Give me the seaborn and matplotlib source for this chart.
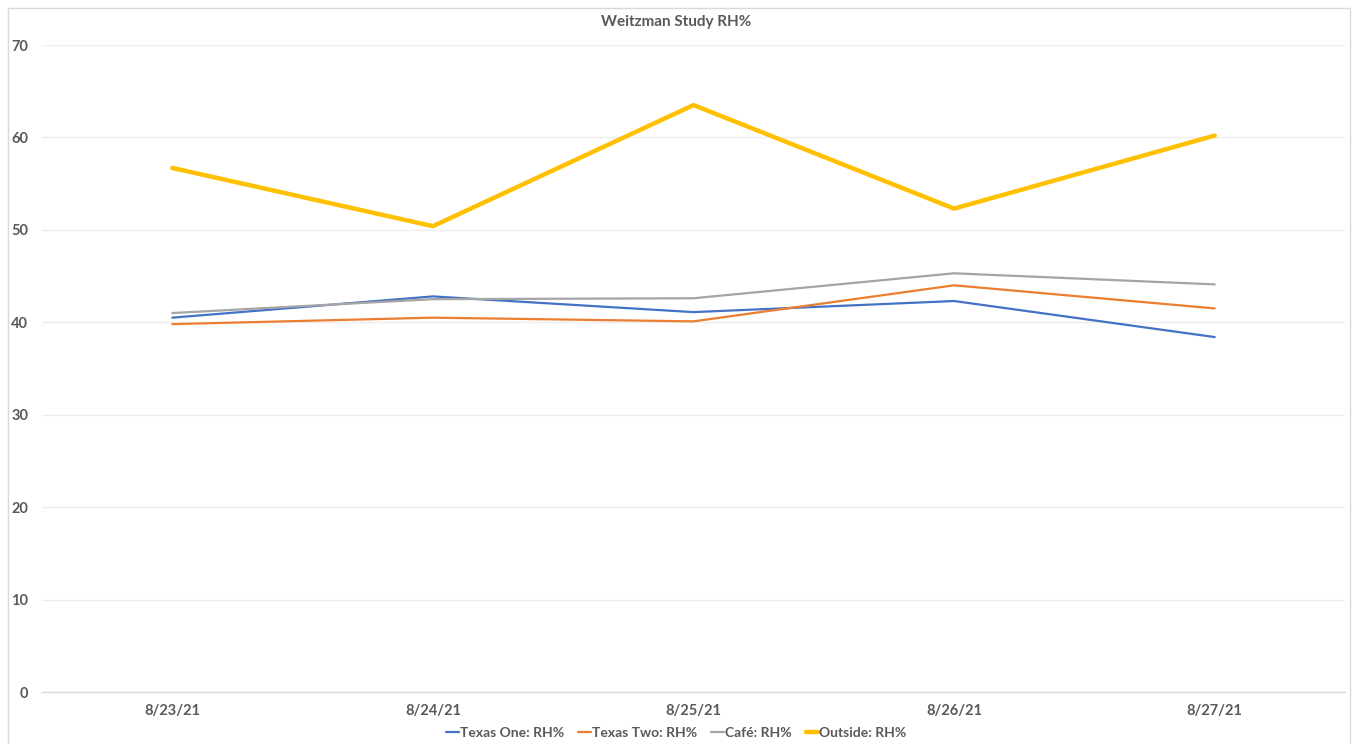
import matplotlib
matplotlib.use("Agg")
import matplotlib.pyplot as plt
import seaborn as sns
import pandas as pd
import numpy as np
from matplotlib.patches import Rectangle
from matplotlib.ticker import FixedLocator
from matplotlib.lines import Line2D

dates = ["8/23/21", "8/24/21", "8/25/21", "8/26/21", "8/27/21"]
series_names = ["Texas One: RH%", "Texas Two: RH%", "Café: RH%", "Outside: RH%"]
texas_one = [40.5, 42.8, 41.1, 42.3, 38.4]
texas_two = [39.8, 40.5, 40.1, 44.0, 41.5]
cafe = [41.0, 42.5, 42.6, 45.3, 44.1]
outside = [56.7, 50.4, 63.5, 52.3, 60.2]
y_ticks = [0, 10, 20, 30, 40, 50, 60, 70]
title = "Weitzman Study RH%"

colors = ["#4472C4", "#ED7D31", "#A5A5A5", "#FFC000"]
widths = [1.6, 1.6, 1.6, 3.2]

rows = []
for name, vals in zip(series_names, [texas_one, texas_two, cafe, outside]):
    for d, v in zip(dates, vals):
        rows.append({"date": d, "series": name, "value": v})
df = pd.DataFrame(rows)
df["xpos"] = df["date"].map({d: i for i, d in enumerate(dates)})

sns.set_theme(style="white")
plt.rcParams["font.family"] = ["Lato", "DejaVu Sans"]

fig = plt.figure(figsize=(13.53, 7.44), dpi=100)
ax = fig.add_axes([42/1353, 1-692/744, (1345-42)/1353, (692-45)/744])

sns.lineplot(data=df, x="xpos", y="value", hue="series", hue_order=series_names,
             palette=colors, size="series", sizes=dict(zip(series_names, widths)),
             size_order=series_names, ax=ax, legend=False, sort=False)

ax.set_xlim(-0.5, len(dates) - 0.5)
ax.set_ylim(0, 70)
ax.set_yticks(y_ticks)
ax.set_yticklabels([str(t) for t in y_ticks])
ax.set_xticks(range(len(dates)))
ax.set_xticklabels(dates)
ax.xaxis.set_minor_locator(FixedLocator(np.arange(-0.5, len(dates), 1.0)))
ax.tick_params(axis="x", which="minor", length=5, color="#D9D9D9", width=1, direction="out")
ax.tick_params(axis="both", which="major", length=0, labelsize=10.5, labelcolor="#595959")
for lab in ax.get_xticklabels() + ax.get_yticklabels():
    lab.set_fontweight("bold")
ax.grid(axis="y", color="#EDEDED", linewidth=1)
ax.set_axisbelow(True)
for s in ["top", "right", "left"]:
    ax.spines[s].set_visible(False)
ax.spines["bottom"].set_color("#D9D9D9")
ax.spines["bottom"].set_linewidth(1)
ax.set_xlabel("")
ax.set_ylabel("")
ax.tick_params(axis="y", pad=10)
ax.tick_params(axis="x", pad=9)

fig.text(0.5, 1-22/744, title, ha="center", va="center", fontsize=11,
         fontweight="bold", color="#595959")

handles = [Line2D([0], [0], color=c, lw=w) for c, w in zip(colors, widths)]
fig.legend(handles, series_names, loc="center", bbox_to_anchor=(0.5, 1-733/744),
           ncol=4, frameon=False, handlelength=0.9, handletextpad=0.1,
           columnspacing=1.0, prop={"weight": "bold", "size": 10},
           labelcolor="#595959")

fig.patches.append(Rectangle((8/1353, -0.05), (1350-8)/1353, 1.05-8/744,
                             transform=fig.transFigure, fill=False,
                             edgecolor="#D9D9D9", linewidth=1))

fig.savefig("out.png", dpi=100)
